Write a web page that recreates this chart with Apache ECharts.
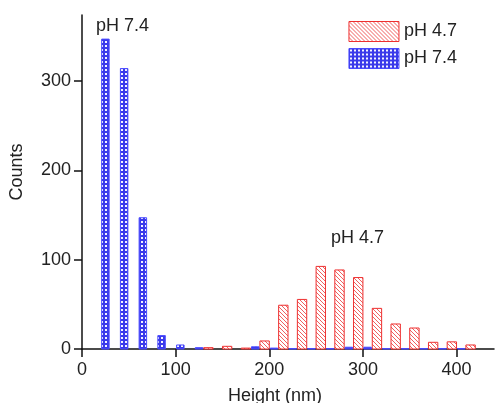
<!DOCTYPE html>
<html>
<head>
<meta charset="utf-8">
<script src="https://cdn.jsdelivr.net/npm/echarts@6/dist/echarts.min.js"></script>
<style>
  html, body { margin: 0; padding: 0; background: #fff; }
  #chart { width: 497px; height: 403px; }
</style>
</head>
<body>
<div id="chart"></div>
<script>
// bin centres (nm) and counts
var acidX = [135, 155, 175, 195, 215, 235, 255, 275, 295, 315, 335, 355, 375, 395, 415];
var acidY = [1.5, 3, 1, 9, 49, 55.5, 92.5, 88.5, 80, 45.5, 28, 23.5, 7.5, 8, 4.5];
var neutX = [25, 45, 65, 85, 105, 125, 185, 205, 225, 245, 265, 285, 305, 325, 345, 365, 385, 405];
var neutY = [347, 314, 147, 15, 4.5, 1.5, 2.5, 1, 0.5, 0.5, 0.5, 2, 2, 0.5, 0.5, 0.5, 0.5, 0.5];
var xTicks = [0, 100, 200, 300, 400];
var yTicks = [0, 100, 200, 300];

function hatch() {
	var c = document.createElement('canvas');
	c.width = 4; c.height = 4;
	var g = c.getContext('2d');
	g.fillStyle = '#fff';
	g.fillRect(0, 0, 4, 4);
	g.strokeStyle = '#f06060';
	g.lineWidth = 1;
	g.beginPath();
	g.moveTo(-1, -1); g.lineTo(5, 5);
	g.moveTo(-1, 3); g.lineTo(1, 5);
	g.moveTo(3, -1); g.lineTo(5, 1);
	g.stroke();
	return c;
}
function dots() {
	var c = document.createElement('canvas');
	c.width = 4; c.height = 4;
	var g = c.getContext('2d');
	g.fillStyle = '#3a3aea';
	g.fillRect(0, 0, 4, 4);
	g.fillStyle = '#f4f4ff';
	g.fillRect(1, 1, 2, 2);
	return c;
}

function bars(w) {
	return function (params, api) {
		var x = api.value(0), y = api.value(1);
		var p0 = api.coord([x - w / 2, y]);
		var p1 = api.coord([x + w / 2, 0]);
		return {
			type: 'rect',
			shape: { x: p0[0], y: p0[1], width: p1[0] - p0[0], height: p1[1] - p0[1] },
			style: api.style()
		};
	};
}

function pairs(xs, ys) {
	var out = [];
	for (var i = 0; i < xs.length; i++) out.push([xs[i], ys[i]]);
	return out;
}

var redStyle = { color: { image: hatch(), repeat: 'repeat' }, borderColor: '#ee3030', borderWidth: 1 };
var blueStyle = { color: { image: dots(), repeat: 'repeat' }, borderColor: '#4a4aff', borderWidth: 1 };
var txt = { color: '#222', fontSize: 18, fontFamily: 'Liberation Sans' };

var myChart = echarts.init(document.getElementById('chart'));
var option = {
	backgroundColor: '#fff',
	animation: false,
	grid: { left: 82, right: 3, top: 15, bottom: 54, outerBoundsMode: 'none', containLabel: false },
	legend: {
		right: 35, top: 16, orient: 'vertical',
		itemWidth: 50, itemHeight: 20, itemGap: 6,
		textStyle: txt,
		data: [
			{ name: 'pH 4.7', icon: 'rect', itemStyle: redStyle },
			{ name: 'pH 7.4', icon: 'rect', itemStyle: blueStyle }
		]
	},
	xAxis: {
		type: 'value', min: 0, max: 440,
		name: 'Height (nm)', nameLocation: 'middle', nameGap: 38,
		nameTextStyle: { color: '#222', fontSize: 18, fontFamily: 'Liberation Sans', padding: [0, 26, 0, 0] },
		axisLine: { lineStyle: { color: '#111', width: 1.5 } },
		axisTick: { length: 8, lineStyle: { color: '#111', width: 1.5 }, customValues: xTicks },
		axisLabel: { customValues: xTicks, color: '#222', fontSize: 18, fontFamily: 'Liberation Sans', margin: 12 },
		splitLine: { show: false }
	},
	yAxis: {
		type: 'value', min: 0, max: 374,
		name: 'Counts', nameLocation: 'middle', nameGap: 56,
		nameTextStyle: { color: '#222', fontSize: 18, fontFamily: 'Liberation Sans', padding: [0, 0, 0, 20] },
		axisLine: { show: true, lineStyle: { color: '#111', width: 1.5 } },
		axisTick: { show: true, length: 8, lineStyle: { color: '#111', width: 1.5 }, customValues: yTicks },
		axisLabel: { customValues: yTicks, color: '#222', fontSize: 18, fontFamily: 'Liberation Sans', margin: 11 },
		splitLine: { show: false }
	},
	graphic: [
		{ type: 'text', left: 96, top: 17, style: { text: 'pH 7.4', fill: '#222', font: '18px "Liberation Sans"' } },
		{ type: 'text', left: 331, top: 229, style: { text: 'pH 4.7', fill: '#222', font: '18px "Liberation Sans"' } }
	],
	series: [
		{ name: 'pH 4.7', type: 'custom', renderItem: bars(10), itemStyle: redStyle, data: pairs(acidX, acidY) },
		{ name: 'pH 7.4', type: 'custom', renderItem: bars(8), itemStyle: blueStyle, data: pairs(neutX, neutY) }
	]
};
myChart.setOption(option);
</script>
</body>
</html>
